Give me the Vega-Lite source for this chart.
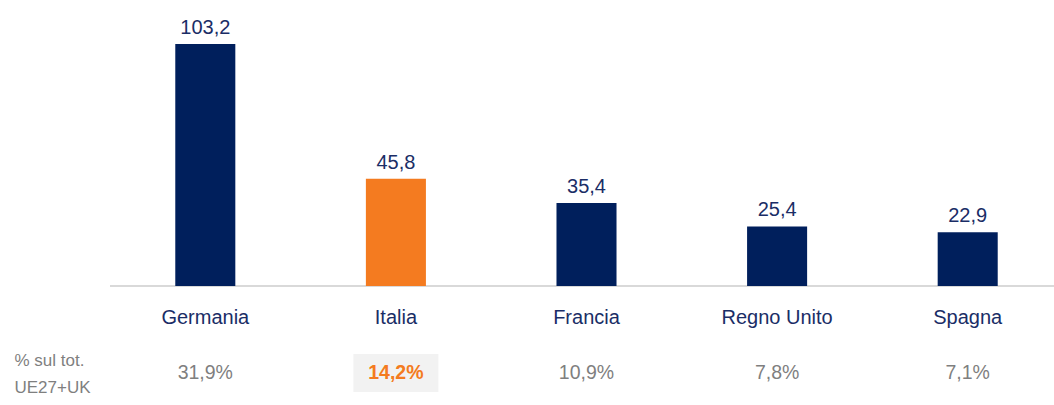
{
  "$schema": "https://vega.github.io/schema/vega-lite/v6.json",
  "padding": {"left": 14, "top": 0, "right": 0, "bottom": 0},
  "background": "#ffffff",
  "config": {
    "view": {"stroke": null},
    "font": "Liberation Sans",
    "locale": {"number": {"decimal": ",", "thousands": ".", "grouping": [3], "currency": ["€", ""]}}
  },
  "data": {
    "values": [
      {"paese": "Germania", "valore": 103.2, "quota": 0.319, "riga": "% sul tot.|UE27+UK"},
      {"paese": "Italia", "valore": 45.8, "quota": 0.142, "riga": "% sul tot.|UE27+UK"},
      {"paese": "Francia", "valore": 35.4, "quota": 0.109, "riga": "% sul tot.|UE27+UK"},
      {"paese": "Regno Unito", "valore": 25.4, "quota": 0.078, "riga": "% sul tot.|UE27+UK"},
      {"paese": "Spagna", "valore": 22.9, "quota": 0.071, "riga": "% sul tot.|UE27+UK"}
    ]
  },
  "spacing": 68,
  "bounds": "flush",
  "vconcat": [
    {
      "width": 944,
      "height": 286,
      "layer": [
        {
          "mark": {"type": "rule", "color": "#d9d9d9", "strokeWidth": 1.5},
          "encoding": {"y": {"datum": 0, "type": "quantitative", "scale": {"domain": [0, 122], "nice": false, "zero": true}, "axis": null}}
        },
        {
          "mark": {"type": "bar"},
          "encoding": {
            "x": {
              "field": "paese", "type": "nominal",
              "sort": ["Germania", "Italia", "Francia", "Regno Unito", "Spagna"],
              "scale": {"range": [0, 953], "paddingInner": 0.685, "paddingOuter": 0.3425},
              "axis": {
                "title": null, "ticks": false, "domain": false,
                "labelAngle": 0, "labelFontSize": 20, "labelColor": "#1a2d66",
                "labelBaseline": "alphabetic", "labelPadding": 37,
                "labelFont": "Liberation Sans"
              }
            },
            "y": {"field": "valore", "type": "quantitative", "scale": {"domain": [0, 122], "nice": false}, "axis": null},
            "color": {"condition": {"test": "datum.paese === 'Italia'", "value": "#f47b20"}, "value": "#001f5c"}
          }
        },
        {
          "mark": {"type": "text", "baseline": "alphabetic", "dy": -10, "fontSize": 20, "color": "#1a2d66", "font": "Liberation Sans"},
          "encoding": {
            "x": {"field": "paese", "type": "nominal", "sort": ["Germania", "Italia", "Francia", "Regno Unito", "Spagna"]},
            "y": {"field": "valore", "type": "quantitative", "scale": {"domain": [0, 122], "nice": false}},
            "text": {"field": "valore", "type": "quantitative", "format": ".1f"}
          }
        }
      ]
    },
    {
      "width": 944,
      "height": 38,
      "encoding": {
        "x": {
          "field": "paese", "type": "nominal",
          "sort": ["Germania", "Italia", "Francia", "Regno Unito", "Spagna"],
          "scale": {"range": [0, 953], "paddingInner": 0.685, "paddingOuter": 0.3425},
          "axis": null
        },
        "y": {
          "field": "riga", "type": "nominal",
          "scale": {"paddingInner": 0, "paddingOuter": 0},
          "axis": {
            "title": null, "domain": false, "ticks": false,
            "labelExpr": "split(datum.label, '|')",
            "labelAlign": "left", "labelPadding": 96, "labelFontSize": 17,
            "labelLineHeight": 27, "labelOffset": -12,
            "labelColor": "#7f7f7f", "labelFont": "Liberation Sans"
          }
        }
      },
      "layer": [
        {
          "transform": [{"filter": "datum.paese === 'Italia'"}],
          "mark": {"type": "bar", "width": 85, "color": "#f2f2f2"}
        },
        {
          "transform": [{"filter": "datum.paese !== 'Italia'"}],
          "mark": {"type": "text", "fontSize": 19.5, "color": "#7f7f7f", "font": "Liberation Sans"},
          "encoding": {"text": {"field": "quota", "type": "quantitative", "format": ".1%"}}
        },
        {
          "transform": [{"filter": "datum.paese === 'Italia'"}],
          "mark": {"type": "text", "fontSize": 19.5, "fontWeight": "bold", "color": "#f47b20", "font": "Liberation Sans"},
          "encoding": {"text": {"field": "quota", "type": "quantitative", "format": ".1%"}}
        }
      ]
    }
  ]
}
